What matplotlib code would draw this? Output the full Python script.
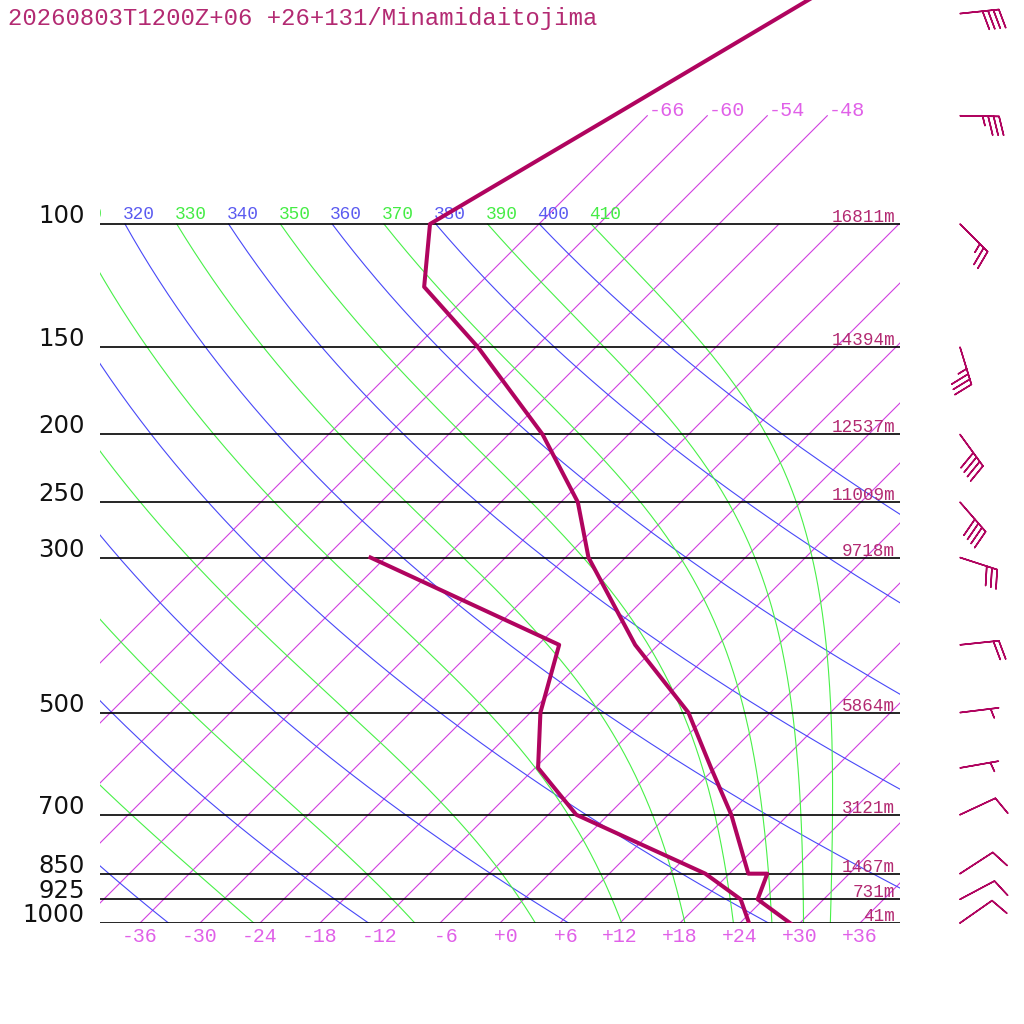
import numpy as np
import matplotlib.pyplot as plt
from matplotlib.transforms import Affine2D, blended_transform_factory, offset_copy

# sounding: temperature (degC) by pressure (hPa)
pres_t = [1000, 925, 850, 850, 700, 600, 500, 400, 300, 250, 200, 150, 123, 100, 70, 50, 30]
temp = [29.0, 23.4, 21.8, 19.9, 12.3, 5.6, -2.2, -14.3, -27.7, -34.3, -44.6, -59.8, -71.2, -76.9, -69.4, -62.4, -51.8]

# dewpoint (degC)
pres_td = [1000, 925, 850, 700, 600, 500, 400, 300]
dewp = [24.9, 21.7, 15.6, -3.2, -11.7, -17.0, -21.9, -49.5]

# standard levels and geopotential height (m)
levels = [100, 150, 200, 250, 300, 500, 700, 850, 925, 1000]
heights = [16811, 14394, 12537, 11009, 9718, 5864, 3121, 1467, 731, 41]

# wind: direction (deg, from) and speed
pres_w = [1000, 925, 850, 700, 600, 500, 400, 300, 250, 200, 150, 100, 70, 50]
wdir = [55, 62, 57, 65, 80, 83, 84, 108, 139, 144, 163, 135, 91, 84]
wspd = [10, 10, 10, 10, 5, 5, 20, 30, 40, 40, 35, 25, 35, 40]

# background lines
isotherms = list(range(-66, 37, 6))
upper_isotherms = [-66, -60, -54, -48]
dry_thetas = list(range(240, 401, 20))
moist_thetas = list(range(250, 411, 20))
xtick_vals = list(range(-36, 37, 6))

title = "20260803T1200Z+06 +26+131/Minamidaitojima"

C_PROF = '#b0045f'
C_TEXT = '#b32a72'
C_ISO = '#d040e0'
C_ISO_T = '#e060e8'
C_DRY = '#4848f8'
C_DRY_T = '#5a5af0'
C_MST = '#48f048'
C_MST_T = '#44ec44'

KAPPA = 0.2857


def moist_adiabat(t_top, p):
    # pseudo-adiabat integrated from the top pressure downwards
    Rd, cp, Lv, eps = 287.04, 1005.7, 2.501e6, 0.622

    def dtdp(t, pp):
        es = 6.112 * np.exp(17.67 * (t - 273.15) / (t - 29.65))
        rs = eps * es / (pp - es)
        return (Rd * t + Lv * rs) / (cp + Lv * Lv * rs * eps / (Rd * t * t)) / pp

    out = [t_top]
    t = t_top
    for i in range(len(p) - 1):
        h = p[i + 1] - p[i]
        k1 = dtdp(t, p[i])
        k2 = dtdp(t + h * k1 / 2, p[i] + h / 2)
        k3 = dtdp(t + h * k2 / 2, p[i] + h / 2)
        k4 = dtdp(t + h * k3, p[i] + h)
        t = t + h * (k1 + 2 * k2 + 2 * k3 + k4) / 6
        out.append(t)
    return np.array(out)


fig = plt.figure(figsize=(10.24, 10.24), dpi=100)
ax = fig.add_axes([100 / 1024, 101 / 1024, 800 / 1024, 923 / 1024])
ax.set_yscale('log')
ax.set_xlim(-40, 40)
ax.set_ylim(1000, 1000 * np.exp(-923 / 303.57))
ax.set_axis_off()

y0 = ax.transAxes.transform((0, 0))[1]
skew = ax.transData + Affine2D().translate(0, -y0).skew_deg(45, 0).translate(0, y0)
blend = blended_transform_factory(ax.transAxes, ax.transData)
label_off = offset_copy(skew, fig, x=-2, y=5, units='dots')

# pressure lines
for p in levels:
    ax.plot([0, 1], [p, p], transform=blend, color='black', lw=1.2, zorder=3)

# isotherms
for t in isotherms:
    ptop = 70 if t in upper_isotherms else 100
    ax.plot([t, t], [1000, ptop], transform=skew, color=C_ISO, lw=0.8, zorder=1)
for t in upper_isotherms:
    ax.text(t, 70, f"{t:d}", transform=offset_copy(skew, fig, x=1, y=0, units='dots'),
            ha='left', va='baseline', color=C_ISO_T, fontsize=14.5, family='Liberation Mono')

pp = np.geomspace(100, 1000, 200)

# dry adiabats
for th in dry_thetas:
    tt = th * (pp / 1000) ** KAPPA - 273.15
    ax.plot(tt, pp, transform=skew, color=C_DRY, lw=0.8, zorder=1)
    if tt[0] > -114:
        ax.text(tt[0], 100, str(th), transform=label_off, ha='left', va='baseline',
                color=C_DRY_T, fontsize=12.8, family='Liberation Mono', clip_on=True)

# moist adiabats
for th in moist_thetas:
    tt = moist_adiabat(th * 0.1 ** KAPPA, pp) - 273.15
    ax.plot(tt, pp, transform=skew, color=C_MST, lw=0.8, zorder=1)
    if tt[0] > -114:
        ax.text(tt[0], 100, str(th), transform=label_off, ha='left', va='baseline',
                color=C_MST_T, fontsize=12.8, family='Liberation Mono', clip_on=True)

# profiles
ax.plot(temp, pres_t, transform=skew, color=C_PROF, lw=2.9, zorder=5)
ax.plot(dewp, pres_td, transform=skew, color=C_PROF, lw=2.9, zorder=5)

# temperature labels along the bottom
for t in xtick_vals:
    ax.text(t, 1000, f"{t:+3d}", transform=offset_copy(ax.transData, fig, x=0, y=-13, units='dots'),
            ha='center', va='center', color=C_ISO_T, fontsize=14.3, family='Liberation Mono',
            clip_on=False)

# pressure and height labels
for p, h in zip(levels, heights):
    ax.text(-0.019, p, str(p), transform=offset_copy(blend, fig, x=0, y=1, units='dots'),
            ha='right', va='baseline', color='#111111', fontsize=17.6, family='DejaVu Sans')
    ax.text(0.994, p, f"{h}m", transform=offset_copy(blend, fig, x=0, y=2, units='dots'),
            ha='right', va='baseline', color=C_TEXT, fontsize=12.7, family='Liberation Mono',
            zorder=6)

# wind barbs
rad = np.deg2rad(wdir)
u = -np.array(wspd) * np.sin(rad)
v = -np.array(wspd) * np.cos(rad)
ax.barbs(np.full(len(pres_w), 1.075), pres_w, u, v, transform=blend, length=7.5,
         sizes=dict(height=0.48, spacing=0.14, width=0.25),
         color=C_PROF, linewidth=1.1, clip_on=False)

fig.text(8 / 1024, 1 - 25 / 1024, title, ha='left', va='baseline', color=C_TEXT,
         fontsize=17.2, family='Liberation Mono')

fig.savefig('out.png', dpi=100)
